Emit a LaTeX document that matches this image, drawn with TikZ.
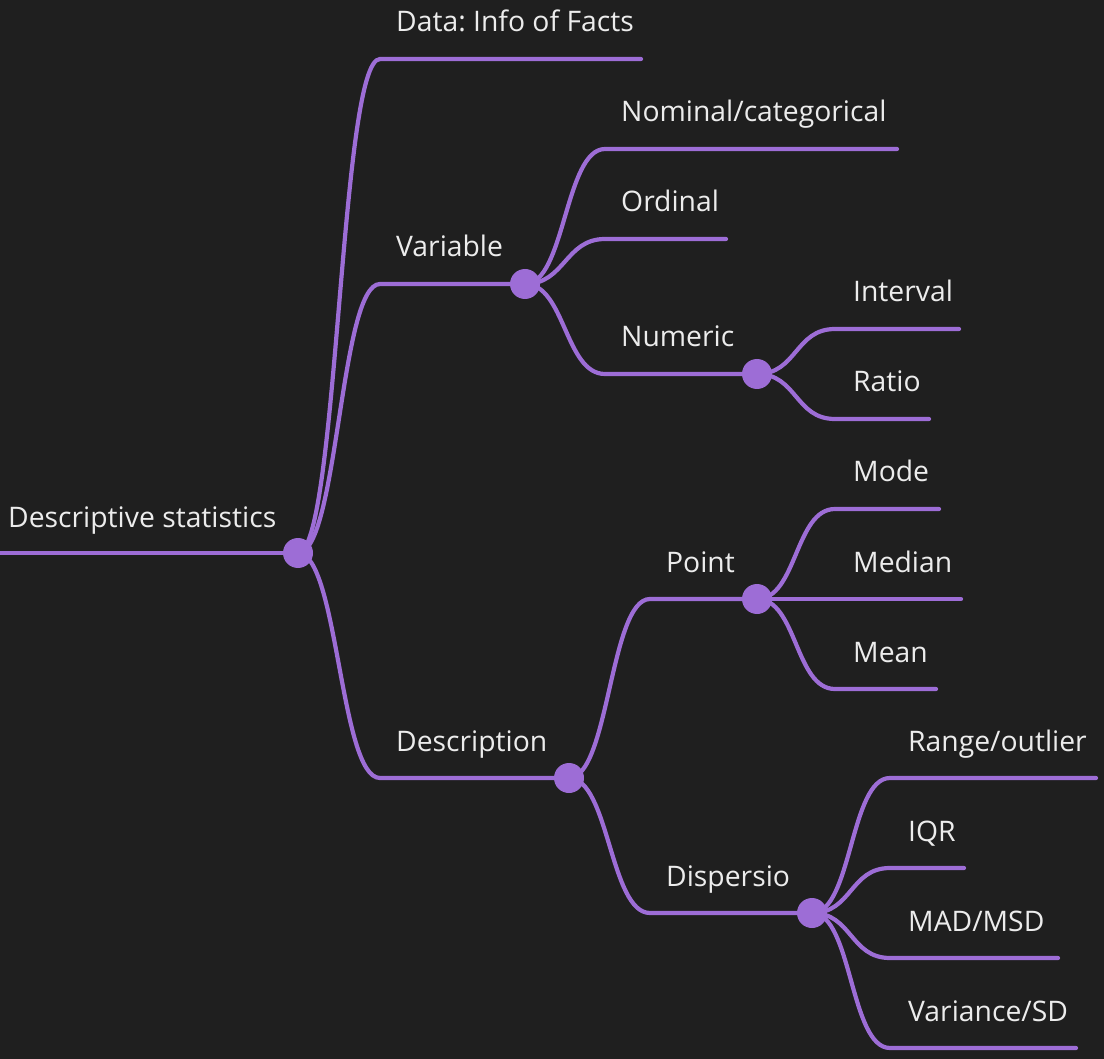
\documentclass[tikz,border=0pt]{standalone}
\usepackage{fontspec}
\setmainfont{Open Sans}
\frenchspacing

\definecolor{bgcol}{HTML}{1F1F1F}
\definecolor{branchcol}{HTML}{9D6DD6}
\definecolor{txtcol}{HTML}{ECECEC}

\begin{document}
\begin{tikzpicture}[x=1pt, y=-1pt,
    branch/.style={line width=4.2pt, draw=branchcol, line cap=round},
    bough/.style={to path={.. controls +(40,0) and +(-40,0) .. (\tikztotarget)}},
    knot/.style={circle, fill=branchcol, inner sep=0pt, minimum size=30pt},
    txt/.style={anchor=base west, inner sep=0pt, text=txtcol, font=\fontsize{28.3}{32}\selectfont}]

    % Canvas
    \fill[bgcol] (0,0) rectangle (1104,1059);
    \useasboundingbox (0,0) rectangle (1104,1059);

    % Centres of the knots
    \coordinate (root) at (298,553);
    \coordinate (var)  at (525,284);
    \coordinate (num)  at (757,374);
    \coordinate (desc) at (569,778);
    \coordinate (pnt)  at (757,599);
    \coordinate (disp) at (812,913);

    % Root
    \coordinate (rootS) at (0,553);
    \draw[branch] (rootS) -- (root);
    \node[txt] (rootT) at (8,527) {Descriptive statistics};

    % First level
    \draw[branch] (root) to[bough] (380,59) -- (641,59) coordinate (dataE);
    \draw[branch] (root) to[bough] (380,284) -- (var);
    \draw[branch] (root) to[bough] (380,778) -- (desc);
    \node[txt] (dataT) at (396,32)  {Data: Info of Facts};
    \node[txt] (varT)  at (396,257) {Variable};
    \node[txt] (descT) at (396,751) {Description};

    % Variable
    \draw[branch] (var) to[bough] (605,149) -- (897,149) coordinate (nomE);
    \draw[branch] (var) to[bough] (605,239) -- (726,239) coordinate (ordE);
    \draw[branch] (var) to[bough] (605,374) -- (num);
    \node[txt] (nomT) at (621,122) {Nominal/categorical};
    \node[txt] (ordT) at (621,212) {Ordinal};
    \node[txt] (numT) at (621,347) {Numeric};

    % Numeric
    \draw[branch] (num) to[bough] (835,329) -- (959,329) coordinate (intE);
    \draw[branch] (num) to[bough] (835,419) -- (929,419) coordinate (ratE);
    \node[txt] (intT) at (853,302) {Interval};
    \node[txt] (ratT) at (853,392) {Ratio};

    % Description
    \draw[branch] (desc) to[bough] (650,599) -- (pnt);
    \draw[branch] (desc) to[bough] (650,913) -- (disp);
    \node[txt] (pntT)  at (666,572) {Point};
    \node[txt] (dispT) at (666,886) {Dispersio};

    % Point
    \draw[branch] (pnt) to[bough] (835,509) -- (939,509) coordinate (modeE);
    \draw[branch] (pnt) -- (961,599) coordinate (medE);
    \draw[branch] (pnt) to[bough] (835,689) -- (936,689) coordinate (meanE);
    \node[txt] (modeT) at (853,482) {Mode};
    \node[txt] (medT)  at (853,572) {Median};
    \node[txt] (meanT) at (853,662) {Mean};

    % Dispersio
    \draw[branch] (disp) to[bough] (890,778)  -- (1096,778) coordinate (rngE);
    \draw[branch] (disp) to[bough] (890,868)  -- (964,868)  coordinate (iqrE);
    \draw[branch] (disp) to[bough] (890,958)  -- (1058,958) coordinate (madE);
    \draw[branch] (disp) to[bough] (890,1048) -- (1076,1048) coordinate (varsdE);
    \node[txt] (rngT)   at (908,751)  {Range/outlier};
    \node[txt] (iqrT)   at (908,841)  {IQR};
    \node[txt] (madT)   at (908,931)  {MAD/MSD};
    \node[txt] (varsdT) at (908,1021) {Variance/SD};

    % Knots on top
    \node[knot] (rootK) at (root) {};
    \node[knot] (varK)  at (var)  {};
    \node[knot] (numK)  at (num)  {};
    \node[knot] (descK) at (desc) {};
    \node[knot] (pntK)  at (pnt)  {};
    \node[knot] (dispK) at (disp) {};

\end{tikzpicture}
\end{document}
